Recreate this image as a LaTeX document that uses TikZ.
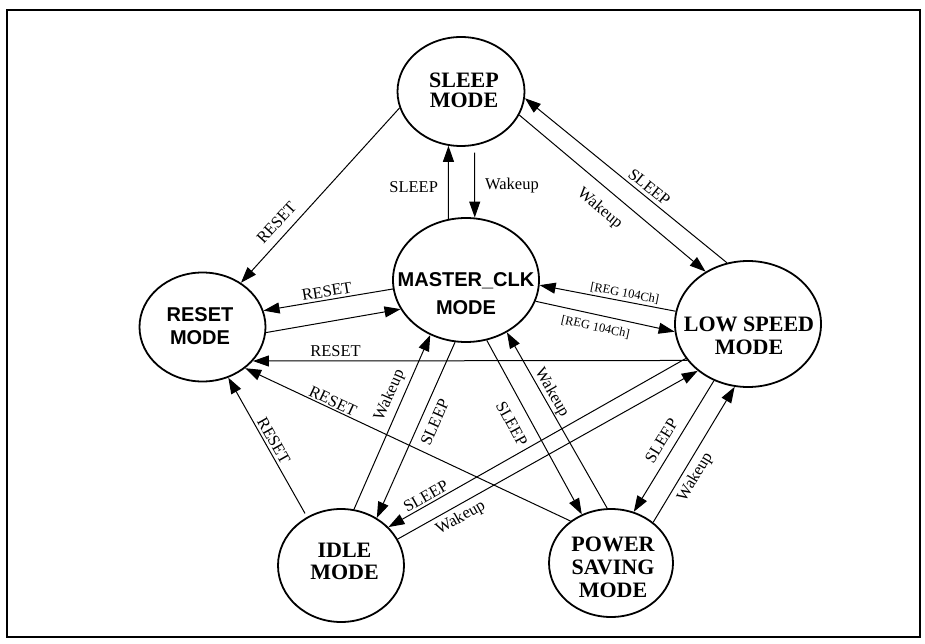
\documentclass[tikz,border=0pt]{standalone}
\usepackage{fontspec}
\setmainfont{Liberation Serif}
\setsansfont{Liberation Sans}
\usetikzlibrary{shapes.geometric,arrows.meta}
\begin{document}
\begin{tikzpicture}[x=1pt,y=-1pt,
  state/.style={draw, ellipse, line width=1.8pt, inner sep=0pt},
  stxt/.style={inner sep=0pt, align=center},
  tr/.style={line width=1pt, -{Triangle[length=16pt,width=11pt]}},
  lbl/.style={inner sep=1pt, font=\fontsize{16.5}{18}\selectfont},
  reg/.style={inner sep=1pt, font=\fontsize{12.5}{14}\selectfont}
]
\useasboundingbox (0,0) rectangle (925,644);
\draw[line width=2pt] (7,10) rectangle (920,637);

% states
\node[state, minimum width=127pt, minimum height=109pt] (sleep) at (461,91.5) {};
\node[state, minimum width=146pt, minimum height=124pt] (master) at (466,280) {};
\node[state, minimum width=126pt, minimum height=109pt] (reset) at (202.5,327) {};
\node[state, minimum width=146pt, minimum height=126pt] (low) at (748,324) {};
\node[state, minimum width=126pt, minimum height=113pt] (idle) at (341,565.5) {};
\node[state, minimum width=124pt, minimum height=108pt] (power) at (611,563) {};

% state texts
\node[stxt, font=\fontsize{22}{20}\selectfont\bfseries] (sleeptxt) at (464,90) {SLEEP\\MODE};
\node[stxt, font=\fontsize{20}{23}\selectfont\sffamily\bfseries] (resettxt) at (200,326.5) {RESET\\MODE};
\node[stxt, font=\fontsize{20}{28}\selectfont\sffamily\bfseries] (mastertxt) at (466,293.5) {MASTER\_CLK\\MODE};
\node[stxt, font=\fontsize{22}{23}\selectfont\bfseries] (lowtxt) at (749,335.5) {LOW SPEED\\MODE};
\node[stxt, font=\fontsize{22}{22}\selectfont\bfseries] (idletxt) at (344.5,561) {IDLE\\MODE};
\node[stxt, font=\fontsize{22}{22.75}\selectfont\bfseries] (powertxt) at (613,567.5) {POWER\\SAVING\\MODE};

% transitions
\draw[tr] (master.106) -- node[lbl, pos=.43, left=9pt]{SLEEP} (sleep.-103);
\draw[tr, shorten <=7pt] (sleep.-76) -- node[lbl, pos=.55, right=9pt]{Wakeup} (master.82);

\draw[tr] (sleep.195) -- node[lbl, pos=.71, sloped, above=7pt]{RESET} (reset.49);
\draw[tr] (master.187) -- node[lbl, pos=.5, sloped, above=1.5pt]{RESET} (reset.15);
\draw[tr] (reset.-5) -- (master.204);
\draw[tr] (low.211) -- node[lbl, pos=.81, above=2.5pt]{RESET} (reset.-34);

\draw[tr] (low.170) -- node[reg, pos=.385, sloped, above=1pt]{[REG 104Ch]} (master.-4);
\draw[tr] (master.-17) -- node[reg, pos=.45, sloped, below=6pt]{[REG 104Ch]} (low.186);

\draw[tr] (low.109) -- node[lbl, pos=.414, sloped, above=2.5pt]{SLEEP} (sleep.-6);
\draw[tr] (sleep.-22) -- node[lbl, pos=.5, sloped, below=11pt]{Wakeup} (low.129);

\draw[tr, shorten <=4pt] (idle.125) -- node[lbl, pos=.517, sloped, above=1.5pt]{RESET} (reset.-63);
\draw[tr] (power.134) -- node[lbl, pos=.74, sloped, above=0.5pt]{RESET} (reset.-44);

\draw[tr] (master.260) -- node[lbl, pos=.423, sloped, below=7pt]{SLEEP} (idle.53);
\draw[tr] (idle.77) -- node[lbl, pos=.625, sloped, above=4pt]{Wakeup} (master.237);

\draw[tr] (master.-71) -- node[lbl, pos=.43, sloped, below=11pt]{SLEEP} (power.121);
\draw[tr] (power.94) -- node[lbl, pos=.632, sloped, above=0pt]{Wakeup} (master.-52);

\draw[tr] (low.209) -- node[lbl, pos=.86, sloped, above=1.5pt]{SLEEP} (idle.39);
\draw[tr] (idle.25) -- node[lbl, pos=.19, sloped, below=3.5pt]{Wakeup} (low.223);

\draw[tr] (low.239) -- node[lbl, pos=.51, sloped, above=6.5pt]{SLEEP} (power.66);
\draw[tr] (power.44) -- node[lbl, pos=.383, sloped, below=4pt]{Wakeup} (low.258);
\end{tikzpicture}
\end{document}
